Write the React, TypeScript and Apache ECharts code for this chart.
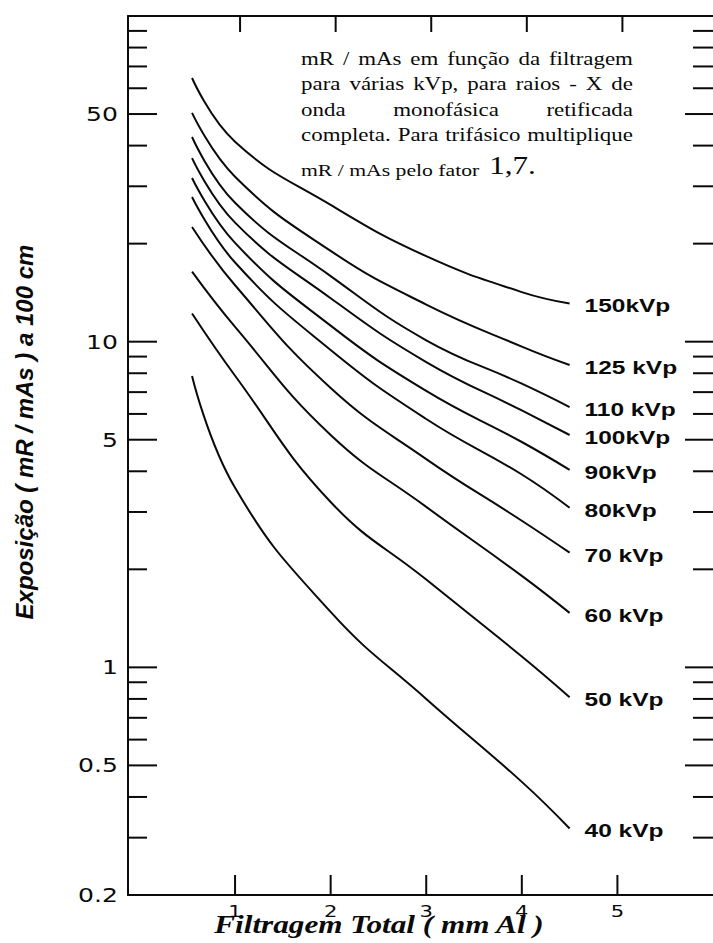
import React, { useEffect, useRef } from "react";
import * as echarts from "echarts";

// Total filtration (mm Al) at which each exposure curve is sampled
const filtration = [0.55, 1, 2, 3, 4, 4.5];

// Exposure (mR/mAs at 100 cm) for each tube potential
const kvp150 = [64.5, 41.1, 26.3, 18.3, 14.2, 13.1];
const kvp125 = [50.4, 32.1, 19.0, 13.0, 9.66, 8.48];
const kvp110 = [42.5, 26.7, 15.9, 10.1, 7.43, 6.3];
const kvp100 = [36.6, 23.2, 13.6, 8.66, 6.15, 5.17];
const kvp90 = [31.8, 20.1, 11.2, 7.06, 4.92, 4.04];
const kvp80 = [27.8, 17.5, 9.43, 5.79, 3.91, 3.09];
const kvp70 = [22.5, 14.9, 7.21, 4.36, 2.82, 2.25];
const kvp60 = [16.4, 11.1, 5.17, 3.11, 1.91, 1.47];
const kvp50 = [12.2, 7.86, 3.22, 1.86, 1.08, 0.81];
const kvp40 = [7.85, 3.56, 1.48, 0.8, 0.445, 0.32];

const curveNames = ["150kVp", "125 kVp", "110 kVp", "100kVp", "90kVp", "80kVp", "70 kVp", "60 kVp", "50 kVp", "40 kVp"];
const curveValues = [kvp150, kvp125, kvp110, kvp100, kvp90, kvp80, kvp70, kvp60, kvp50, kvp40];

// Logarithmic exposure axis: labelled (long) ticks and minor (short) ticks
const yMajorTicks = [0.2, 0.5, 1, 5, 10, 50];
const yTickLabels = ["0.2", "0.5", "1", "5", "10", "50"];
const yMinorTicks = [0.3, 0.4, 0.6, 0.7, 0.8, 0.9, 2, 3, 4, 6, 7, 8, 9, 20, 30, 40, 60, 70, 80, 90];

// Filtration axis ticks
const xTickValues = [1, 2, 3, 4, 5];
const xTickLabels = ["1", "2", "3", "4", "5"];

const noteLines = [
  "mR / mAs em função da filtragem",
  "para várias kVp, para raios - X de",
  "onda monofásica retificada",
  "completa. Para trifásico multiplique",
];
const noteLastLine = "mR / mAs pelo fator";
const noteFactor = "1,7.";

const xTitle = "Filtragem Total ( mm Al )";
const yTitle = "Exposição ( mR / mAs ) a 100 cm";

const X_MIN = -0.12;
const X_MAX = 6;
const Y_MIN = 0.2;
const Y_MAX = 100;
const INK = "#0a0a0a";
const WIDE = 1.32;

function measure(ctx: CanvasRenderingContext2D, text: string, font: string) {
  ctx.font = font;
  return ctx.measureText(text).width;
}

function textStyle(text: string, font: string, align: string) {
  return {
    text,
    font,
    fill: INK,
    align,
    verticalAlign: "middle",
    textAlign: align,
    textVerticalAlign: "middle",
  };
}

// Justified note block in the upper right of the plot
function buildNote(): any[] {
  const canvas = document.createElement("canvas");
  const ctx = canvas.getContext("2d") as CanvasRenderingContext2D;
  const left = 301;
  const right = 633;
  const scale = 1.24;
  const size = 18.5;
  const font = `${size}px "Liberation Serif"`;
  const span = (right - left) / scale;
  const baselines = [65, 90, 116, 141];
  const children: any[] = [];
  noteLines.forEach((line, li) => {
    const words = line.split(/\s+/);
    const widths = words.map((w) => measure(ctx, w, font));
    const total = widths.reduce((a, b) => a + b, 0);
    const gap = (span - total) / (words.length - 1);
    let cx = 0;
    words.forEach((w, wi) => {
      children.push({
        type: "text",
        x: cx,
        y: baselines[li] - size * 0.34,
        style: textStyle(w, font, "left"),
      });
      cx += widths[wi] + gap;
    });
  });
  const smallFont = `17.5px "Liberation Serif"`;
  const bigFont = `25px "Liberation Serif"`;
  const lastW = measure(ctx, noteLastLine, smallFont);
  children.push({
    type: "text",
    x: 0,
    y: 176 - 17.5 * 0.34,
    style: textStyle(noteLastLine, smallFont, "left"),
  });
  children.push({
    type: "text",
    x: lastW + 8,
    y: 174 - 25 * 0.34,
    style: textStyle(noteFactor, bigFont, "left"),
  });
  return [{ type: "group", x: left, y: 0, scaleX: scale, children }];
}

export default function App() {
  const ref = useRef<HTMLDivElement>(null);

  useEffect(() => {
    document.body.style.margin = "0";
    if (!ref.current) return;
    const chart = echarts.init(ref.current, undefined, { renderer: "svg" });

    const lineSeries = curveValues.map((vals, i) => ({
      type: "line",
      name: curveNames[i],
      data: filtration.map((x, j) => [x, vals[j]]),
      showSymbol: false,
      smooth: 0.45,
      silent: true,
      lineStyle: { color: INK, width: 2 },
      z: 3,
    }));

    const yMajorSeries = {
      type: "custom",
      coordinateSystem: "cartesian2d",
      silent: true,
      clip: false,
      z: 4,
      data: yMajorTicks.map((v) => [X_MIN, v]),
      renderItem: (params: any, api: any) => {
        const v = api.value(1);
        const l = api.coord([X_MIN, v]);
        const r = api.coord([X_MAX, v]);
        const children: any[] = [
          {
            type: "text",
            x: l[0] - 10,
            y: l[1],
            scaleX: WIDE,
            style: textStyle(yTickLabels[params.dataIndex], '19px "DejaVu Sans"', "right"),
          },
        ];
        if (v > Y_MIN) {
          children.push(
            { type: "line", shape: { x1: l[0], y1: l[1], x2: l[0] + 29, y2: l[1] }, style: { stroke: INK, lineWidth: 2 } },
            { type: "line", shape: { x1: r[0] - 28, y1: r[1], x2: r[0], y2: r[1] }, style: { stroke: INK, lineWidth: 2 } }
          );
        }
        return { type: "group", children };
      },
    };

    const yMinorSeries = {
      type: "custom",
      coordinateSystem: "cartesian2d",
      silent: true,
      clip: false,
      z: 4,
      data: yMinorTicks.map((v) => [X_MIN, v]),
      renderItem: (params: any, api: any) => {
        const v = api.value(1);
        const l = api.coord([X_MIN, v]);
        const r = api.coord([X_MAX, v]);
        return {
          type: "group",
          children: [
            { type: "line", shape: { x1: l[0], y1: l[1], x2: l[0] + 19, y2: l[1] }, style: { stroke: INK, lineWidth: 2 } },
            { type: "line", shape: { x1: r[0] - 20, y1: r[1], x2: r[0], y2: r[1] }, style: { stroke: INK, lineWidth: 2 } },
          ],
        };
      },
    };

    const xTickSeries = {
      type: "custom",
      coordinateSystem: "cartesian2d",
      silent: true,
      clip: false,
      z: 4,
      data: xTickValues.map((v) => [v, Y_MIN]),
      renderItem: (params: any, api: any) => {
        const v = api.value(0);
        const b = api.coord([v, Y_MIN]);
        const t = api.coord([v, Y_MAX]);
        return {
          type: "group",
          children: [
            { type: "line", shape: { x1: b[0], y1: b[1], x2: b[0], y2: b[1] - 20 }, style: { stroke: INK, lineWidth: 2 } },
            { type: "line", shape: { x1: t[0] + 5, y1: t[1], x2: t[0] + 5, y2: t[1] + 16 }, style: { stroke: INK, lineWidth: 2 } },
            {
              type: "text",
              x: b[0],
              y: b[1] + 16,
              scaleX: WIDE,
              style: textStyle(xTickLabels[params.dataIndex], '16px "DejaVu Sans"', "center"),
            },
          ],
        };
      },
    };

    const curveLabelSeries = {
      type: "custom",
      coordinateSystem: "cartesian2d",
      silent: true,
      clip: false,
      z: 5,
      data: curveValues.map((vals) => [filtration[filtration.length - 1], vals[vals.length - 1]]),
      renderItem: (params: any, api: any) => {
        const p = api.coord([api.value(0), api.value(1)]);
        return {
          type: "text",
          x: p[0] + 15,
          y: p[1] + 3,
          scaleX: 1.36,
          style: textStyle(curveNames[params.dataIndex], 'bold 18px "Liberation Sans"', "left"),
        };
      },
    };

    chart.setOption({
      animation: false,
      backgroundColor: "#ffffff",
      grid: { left: 128, right: -7, top: 16, bottom: 48, containLabel: false },
      xAxis: [
        {
          type: "value",
          min: X_MIN,
          max: X_MAX,
          position: "bottom",
          axisLine: { show: true, onZero: false, lineStyle: { color: INK, width: 2 } },
          axisTick: { show: false },
          axisLabel: { show: false },
          splitLine: { show: false },
        },
        {
          type: "value",
          min: X_MIN,
          max: X_MAX,
          position: "top",
          axisLine: { show: true, onZero: false, lineStyle: { color: INK, width: 2 } },
          axisTick: { show: false },
          axisLabel: { show: false },
          splitLine: { show: false },
        },
      ],
      yAxis: {
        type: "log",
        logBase: 10,
        min: Y_MIN,
        max: Y_MAX,
        axisLine: { show: true, onZero: false, lineStyle: { color: INK, width: 2 } },
        axisTick: { show: false },
        axisLabel: { show: false },
        splitLine: { show: false },
      },
      graphic: [
        ...buildNote(),
        {
          type: "text",
          x: 379,
          y: 933 - 26 * 0.34,
          scaleX: 1.2,
          style: textStyle(xTitle, 'italic bold 26px "Liberation Serif"', "center"),
        },
        {
          type: "text",
          x: 24,
          y: 432,
          rotation: Math.PI / 2,
          style: textStyle(yTitle, 'italic bold 24px "Liberation Sans"', "center"),
        },
      ],
      series: [...lineSeries, yMajorSeries, yMinorSeries, xTickSeries, curveLabelSeries],
    });

    return () => chart.dispose();
  }, []);

  return (
    <div
      ref={ref}
      style={{ position: "fixed", left: 0, top: 0, width: 713, height: 943, background: "#fff" }}
    />
  );
}
